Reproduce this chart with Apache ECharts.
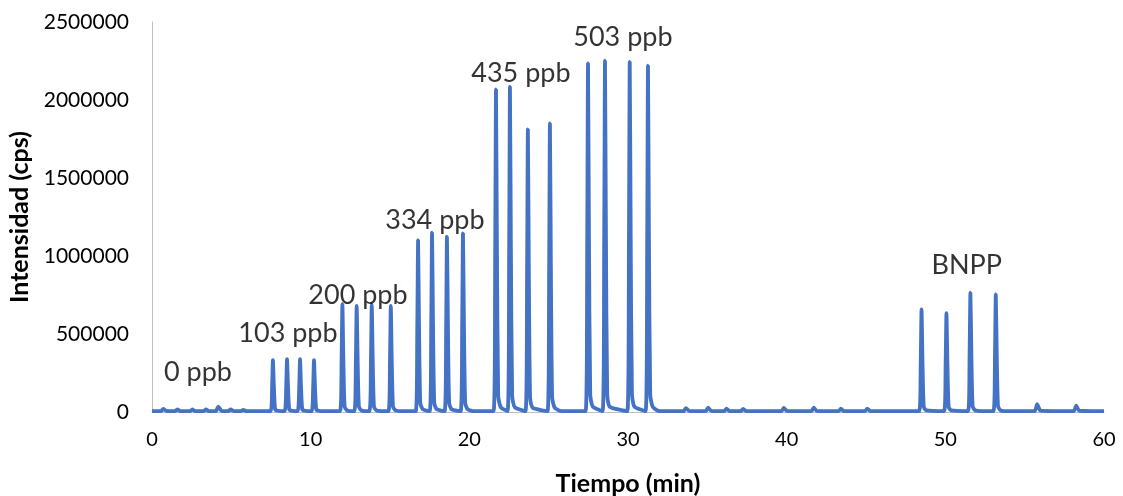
<!DOCTYPE html>
<html>
<head>
<meta charset="utf-8">
<script src="https://cdn.jsdelivr.net/npm/echarts@6/dist/echarts.min.js"></script>
<style>html,body{margin:0;padding:0;background:#fff}#c{width:1123px;height:496px}</style>
</head>
<body>
<div id="c"></div>
<script>
// Tiempo (min), Intensidad (cps) pairs
const blanco0 = [[0,5000],[0.55,5000],[0.71,20000],[0.9,7000],[1.45,5000],[1.59,17000],[1.78,6000],[2.4,5000],[2.54,17000],[2.72,6000],[3.25,5000],[3.4,17000],[3.58,6000],[4.02,5000],[4.18,35000],[4.38,8000],[4.8,5000],[4.96,17000],[5.15,6000],[5.6,5000],[5.75,14000],[5.95,5000],[7.47,5000]];
const ppb103 = [[7.57,167000],[7.62,333000],[7.68,167000],[7.76,17000],[7.92,8000],[8.36,5000],[8.46,169000],[8.51,338000],[8.57,169000],[8.65,17000],[8.81,8000],[9.18,5000],[9.28,169000],[9.33,338000],[9.39,169000],[9.47,17000],[9.63,8000],[10.06,5000],[10.16,167000],[10.21,333000],[10.27,167000],[10.35,17000],[10.51,8000],[10.8,5000]];
const ppb200 = [[11.85,5000],[11.95,346000],[12.0,692000],[12.06,346000],[12.14,35000],[12.3,10000],[12.75,5000],[12.85,340000],[12.9,680000],[12.96,340000],[13.04,34000],[13.2,10000],[13.7,5000],[13.8,343000],[13.85,686000],[13.91,343000],[13.99,34000],[14.15,10000],[14.9,5000],[15.0,340000],[15.05,680000],[15.11,340000],[15.19,34000],[15.35,10000],[15.7,5000]];
const ppb334 = [[16.62,5000],[16.72,551000],[16.77,1102000],[16.83,551000],[16.91,55000],[17.07,17000],[17.5,5000],[17.6,575000],[17.65,1149000],[17.71,575000],[17.79,57000],[17.95,17000],[18.44,5000],[18.54,562000],[18.59,1124000],[18.65,562000],[18.73,56000],[18.89,17000],[19.45,5000],[19.55,573000],[19.6,1145000],[19.66,573000],[19.74,57000],[19.9,17000],[20.3,5000]];
const ppb435 = [[21.53,5000],[21.63,1034000],[21.68,2068000],[21.74,1034000],[21.82,103000],[21.98,31000],[22.41,5000],[22.51,1043000],[22.56,2085000],[22.62,1043000],[22.7,104000],[22.86,31000],[23.54,5000],[23.64,906000],[23.69,1812000],[23.75,906000],[23.83,91000],[23.99,27000],[24.93,5000],[25.03,925000],[25.08,1850000],[25.14,925000],[25.22,93000],[25.38,28000],[25.8,5000]];
const ppb503 = [[27.33,5000],[27.43,1118000],[27.48,2235000],[27.54,1118000],[27.62,112000],[27.78,34000],[28.4,5000],[28.5,1126000],[28.55,2252000],[28.61,1126000],[28.69,113000],[28.85,34000],[29.96,5000],[30.06,1123000],[30.11,2245000],[30.17,1123000],[30.25,112000],[30.41,34000],[31.11,5000],[31.21,1110000],[31.26,2220000],[31.32,1110000],[31.4,111000],[31.56,33000],[32.0,5000]];
const blancos = [[33.5,5000],[33.65,25000],[33.85,7000],[34.9,5000],[35.05,28000],[35.25,7000],[36.06,5000],[36.21,22000],[36.4,6000],[37.1,5000],[37.26,20000],[37.45,6000],[39.67,5000],[39.82,26000],[40.02,7000],[41.56,5000],[41.71,28000],[41.9,7000],[43.27,5000],[43.42,22000],[43.6,6000],[44.93,5000],[45.08,22000],[45.28,6000],[48.35,5000]];
const bnpp = [[48.45,329000],[48.5,658000],[48.56,329000],[48.64,33000],[48.8,10000],[49.92,5000],[50.02,317000],[50.07,633000],[50.13,317000],[50.21,32000],[50.37,10000],[51.43,5000],[51.53,383000],[51.58,765000],[51.64,383000],[51.72,38000],[51.88,11000],[53.03,5000],[53.13,377000],[53.18,754000],[53.24,377000],[53.32,38000],[53.48,11000],[53.9,5000]];
const final = [[55.62,5000],[55.79,50000],[56.0,9000],[58.08,5000],[58.25,40000],[58.45,8000],[60,5000]];

// Annotation labels: [tiempo, intensidad, texto]
const etiquetas = [[2.9,256000,'0 ppb'],[8.57,506000,'103 ppb'],[12.98,750000,'200 ppb'],[17.83,1231000,'334 ppb'],[23.25,2173000,'435 ppb'],[29.68,2404000,'503 ppb'],[51.35,942000,'BNPP']];

const xTicks = [0,10,20,30,40,50,60];
const yTicks = [0,500000,1000000,1500000,2000000,2500000];

const traza = [].concat(blanco0, ppb103, ppb200, ppb334, ppb435, ppb503, blancos, bnpp, final);

const chart = echarts.init(document.getElementById('c'), null, {renderer:'canvas'});
chart.setOption({
  animation:false,
  grid:{left:152,right:19,top:22,bottom:84,containLabel:false,outerBoundsMode:'none'},
  xAxis:{type:'value',min:xTicks[0],max:xTicks[xTicks.length-1],interval:10,
    name:'Tiempo (min)',nameLocation:'middle',nameGap:59,
    nameTextStyle:{fontFamily:'Lato',fontSize:25,fontWeight:'bold',color:'#000'},
    axisLine:{show:true,lineStyle:{color:'#BFBFBF',width:1}},
    axisTick:{show:false},splitLine:{show:false},
    axisLabel:{fontFamily:'Lato',fontSize:20,color:'#000',margin:18,formatter:v=>String(v)}},
  yAxis:{type:'value',min:yTicks[0],max:yTicks[yTicks.length-1],interval:500000,
    name:'Intensidad (cps)',nameLocation:'middle',nameGap:114,
    nameTextStyle:{fontFamily:'Lato',fontSize:25,fontWeight:'bold',color:'#000'},
    axisLine:{show:true,lineStyle:{color:'#BFBFBF',width:1}},
    axisTick:{show:false},splitLine:{show:false},
    axisLabel:{fontFamily:'Lato',fontSize:21,color:'#000',margin:23,formatter:v=>String(v)}},
  series:[
    {type:'line',data:traza,showSymbol:false,smooth:0.2,
     lineStyle:{color:'#4472C4',width:3.8},z:2},
    {type:'scatter',data:etiquetas.map(e=>[e[0],e[1],e[2]]),symbolSize:0,silent:true,
     label:{show:true,position:'inside',formatter:p=>p.data[2],fontFamily:'Lato',fontSize:27,color:'#000000'},z:3}
  ]
});
</script>
</body>
</html>
